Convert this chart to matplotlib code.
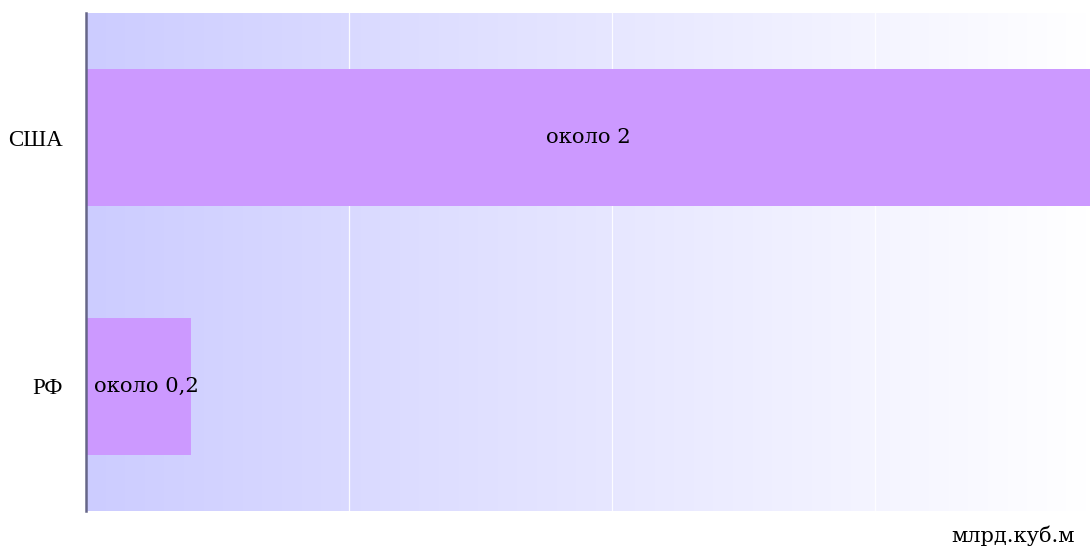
import matplotlib
matplotlib.use("Agg")
import matplotlib.pyplot as plt
import numpy as np
from matplotlib.colors import LinearSegmentedColormap

categories = ["США", "РФ"]
values = [2.0, 0.2]
value_labels = ["около 2", "около 0,2"]
unit_label = "млрд.куб.м"
x_max = 1.909
grid_ticks = [0.5, 1.0, 1.5]

fig = plt.figure(figsize=(10.91, 5.48), dpi=100)
ax = fig.add_axes([86/1091, 37/548, 1004/1091, 498/548])

# gradient background
cmap = LinearSegmentedColormap.from_list("bg", ["#CCCCFF", "#FFFFFF"])
grad = np.linspace(0, 1, 256).reshape(1, -1)
ax.imshow(grad, cmap=cmap, aspect="auto", extent=[0, x_max, -0.5, 1.5],
          origin="lower", zorder=0)

for t in grid_ticks:
    ax.axvline(t, color="white", lw=0.9, alpha=0.9, zorder=1)

y = np.arange(len(categories))[::-1]
ax.barh(y, values, height=0.554, color="#CC99FF", zorder=2)

ax.set_xlim(0, x_max)
ax.set_ylim(-0.5, 1.5)
ax.set_yticks(y)
ax.set_yticklabels(categories, family="Liberation Serif", fontsize=16.5)
ax.tick_params(axis="y", length=0, pad=16.5)
ax.set_xticks([])
for s in ["top", "right", "bottom"]:
    ax.spines[s].set_visible(False)
ax.spines["left"].set_color("#666688")
ax.spines["left"].set_linewidth(1.8)
ax.spines["left"].set_zorder(5)

for yi, v, lab in zip(y, values, value_labels):
    if v > 1:
        ax.text(min(v, x_max) / 2, yi, lab, ha="center", va="center",
                family="DejaVu Serif", fontsize=15.2, zorder=3)
    else:
        ax.text(0.015, yi, lab, ha="left", va="center",
                family="DejaVu Serif", fontsize=15.2, zorder=3)

fig.text(1075/1091, 1 - 542/548, unit_label, ha="right", va="baseline",
         family="DejaVu Serif", fontsize=15.0)

fig.savefig("out.png", dpi=100)
